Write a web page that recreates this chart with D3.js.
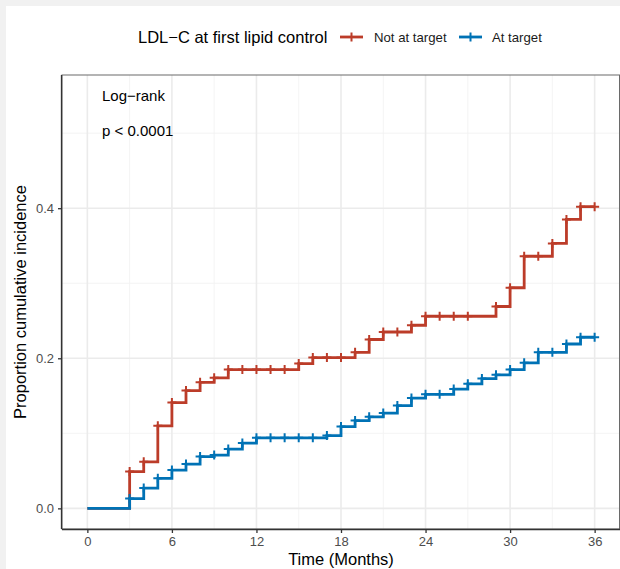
<!DOCTYPE html>
<html>
<head>
<meta charset="utf-8">
<script src="https://cdn.jsdelivr.net/npm/d3@7"></script>
<style>
  html, body { margin: 0; padding: 0; background: #ffffff; }
  svg { display: block; font-family: "Liberation Sans", Arial, sans-serif; }
</style>
</head>
<body>
<svg id="chart" width="620" height="569"></svg>
<script>
// Cumulative incidence by month (step value from that month onward)
const months = d3.range(0, 37);
const notAtTarget = [0, 0, 0, 0.049, 0.062, 0.110, 0.141, 0.157, 0.168, 0.174,
  0.185, 0.185, 0.185, 0.185, 0.185, 0.193, 0.201, 0.201, 0.201, 0.208,
  0.225, 0.235, 0.235, 0.244, 0.256, 0.256, 0.256, 0.256, 0.256, 0.269,
  0.294, 0.336, 0.336, 0.353, 0.385, 0.402, 0.402];
const atTarget = [0, 0, 0, 0.013, 0.027, 0.040, 0.051, 0.059, 0.069, 0.071,
  0.079, 0.087, 0.094, 0.094, 0.094, 0.094, 0.094, 0.097, 0.109, 0.117,
  0.122, 0.127, 0.137, 0.147, 0.152, 0.152, 0.159, 0.166, 0.173, 0.178,
  0.185, 0.194, 0.208, 0.208, 0.219, 0.228, 0.228];

// Censoring times (months)
const notAtTargetCensor = d3.range(3, 28).concat(d3.range(29, 37));
const atTargetCensor = d3.range(3, 37);

const xTicks = [0, 6, 12, 18, 24, 30, 36];
const yTicks = [0.0, 0.2, 0.4];
const xMinor = [3, 9, 15, 21, 27, 33];
const yMinor = [0.1, 0.3, 0.5];

const seriesNames = ["Not at target", "At target"];
const seriesColors = ["#BC3C29", "#0072B5"];

const W = 620, H = 569;
const panel = { left: 62, right: 620, top: 75, bottom: 529 };

const svg = d3.select("#chart");

// page background with thin grey frame
svg.append("rect").attr("width", W).attr("height", H).attr("fill", "#f1f1f1");
svg.append("rect").attr("x", 6).attr("y", 6).attr("width", W - 6).attr("height", H - 6).attr("fill", "#ffffff");

const x = d3.scaleLinear().domain([-1.8, 37.8]).range([panel.left, panel.right]);
const y = d3.scaleLinear().domain([-0.0275, 0.5775]).range([panel.bottom, panel.top]);

const g = svg.append("g");

// grid
g.selectAll("line.xminor").data(xMinor).join("line")
  .attr("x1", d => x(d)).attr("x2", d => x(d))
  .attr("y1", panel.top).attr("y2", panel.bottom)
  .attr("stroke", "#f3f3f3").attr("stroke-width", 0.9);
g.selectAll("line.yminor").data(yMinor).join("line")
  .attr("y1", d => y(d)).attr("y2", d => y(d))
  .attr("x1", panel.left).attr("x2", panel.right)
  .attr("stroke", "#f3f3f3").attr("stroke-width", 0.9);
g.selectAll("line.xmajor").data(xTicks).join("line")
  .attr("x1", d => x(d)).attr("x2", d => x(d))
  .attr("y1", panel.top).attr("y2", panel.bottom)
  .attr("stroke", "#ebebeb").attr("stroke-width", 1.6);
g.selectAll("line.ymajor").data(yTicks).join("line")
  .attr("y1", d => y(d)).attr("y2", d => y(d))
  .attr("x1", panel.left).attr("x2", panel.right)
  .attr("stroke", "#ebebeb").attr("stroke-width", 1.6);

// series
const series = [
  { name: seriesNames[0], color: seriesColors[0], values: notAtTarget, censor: notAtTargetCensor },
  { name: seriesNames[1], color: seriesColors[1], values: atTarget, censor: atTargetCensor }
];

const line = d3.line()
  .x(d => x(d[0])).y(d => y(d[1]))
  .curve(d3.curveStepAfter);

series.forEach(s => {
  const pts = months.map((m, i) => [m, s.values[i]]);
  g.append("path")
    .attr("d", line(pts))
    .attr("fill", "none")
    .attr("stroke", s.color)
    .attr("stroke-width", 2.8)
    .attr("stroke-linejoin", "miter");
  const marks = g.append("g");
  s.censor.forEach(t => {
    const cx = x(t), cy = y(s.values[months.indexOf(t)]);
    marks.append("path")
      .attr("d", `M${cx - 4.5},${cy}H${cx + 4.5}M${cx},${cy - 4.5}V${cy + 4.5}`)
      .attr("stroke", s.color).attr("stroke-width", 2).attr("fill", "none");
  });
});

// panel border
g.append("rect")
  .attr("x", panel.left).attr("y", panel.top)
  .attr("width", panel.right - panel.left - 0.5).attr("height", panel.bottom - panel.top)
  .attr("fill", "none").attr("stroke", "#6a6a6a").attr("stroke-width", 1);

// axes
const xAxis = svg.append("g")
  .attr("transform", `translate(0,${panel.bottom})`)
  .call(d3.axisBottom(x).tickValues(xTicks).tickFormat(d3.format("d")).tickSize(4).tickPadding(4));
const yAxis = svg.append("g")
  .attr("transform", `translate(${panel.left},0)`)
  .call(d3.axisLeft(y).tickValues(yTicks).tickFormat(d3.format(".1f")).tickSize(4).tickPadding(4));

[xAxis, yAxis].forEach(a => {
  a.select(".domain").attr("stroke", "#333333").attr("stroke-width", 1.3);
  a.selectAll(".tick line").attr("stroke", "#333333").attr("stroke-width", 1.3);
  a.selectAll(".tick text")
    .attr("fill", "#4d4d4d")
    .style("font-size", "13px")
    .style("font-family", "'Liberation Sans', Arial, sans-serif");
});
xAxis.select(".domain").attr("d", `M${panel.left},0.5H${panel.right}`);
yAxis.select(".domain").attr("d", `M-0.5,${panel.top}V${panel.bottom}`);

// axis titles
svg.append("text")
  .attr("x", (panel.left + panel.right) / 2).attr("y", 565)
  .attr("text-anchor", "middle")
  .attr("font-size", 16.5).attr("fill", "#000")
  .text("Time (Months)");
svg.append("text")
  .attr("transform", `translate(25.5,${(panel.top + panel.bottom) / 2}) rotate(-90)`)
  .attr("text-anchor", "middle")
  .attr("font-size", 16.5).attr("fill", "#000")
  .text("Proportion cumulative incidence");

// test annotation
svg.append("text").attr("x", 102).attr("y", 101).attr("font-size", 15).attr("fill", "#000").text("Log\u2212rank");
svg.append("text").attr("x", 102).attr("y", 136).attr("font-size", 15).attr("fill", "#000").text("p < 0.0001");

// legend
const legend = svg.append("g");
legend.append("text").attr("x", 138).attr("y", 42.5)
  .attr("font-size", 16.5).attr("fill", "#000")
  .text("LDL\u2212C at first lipid control");
const keyX = [340, 459];
const labelX = [374, 492];
series.forEach((s, i) => {
  const kx = keyX[i], ky = 37;
  legend.append("line").attr("x1", kx).attr("x2", kx + 23).attr("y1", ky).attr("y2", ky)
    .attr("stroke", s.color).attr("stroke-width", 2.8);
  legend.append("path")
    .attr("d", `M${kx + 11.5 - 4.5},${ky}H${kx + 11.5 + 4.5}M${kx + 11.5},${ky - 4.5}V${ky + 4.5}`)
    .attr("stroke", s.color).attr("stroke-width", 2);
  legend.append("text").attr("x", labelX[i]).attr("y", ky + 4.6)
    .attr("font-size", 13.2).attr("fill", "#1a1a1a")
    .text(s.name);
});
</script>
</body>
</html>
